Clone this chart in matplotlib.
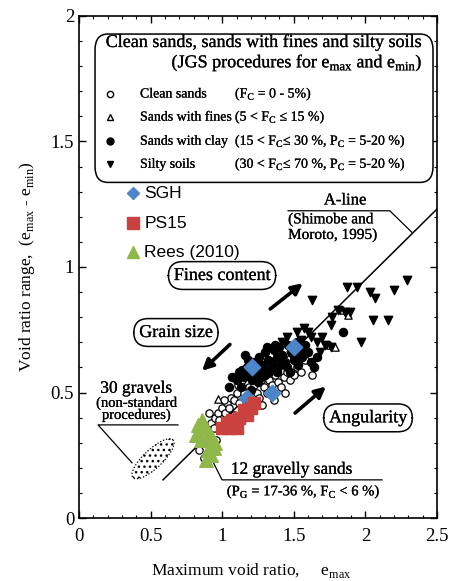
import numpy as np
import matplotlib
matplotlib.use("Agg")
import matplotlib.pyplot as plt
import matplotlib.patheffects as pe
from matplotlib.patches import FancyBboxPatch, Polygon

# --- data (e_max, e_max - e_min) ---
clean_x = [0.84, 0.86, 0.88, 0.87, 0.90, 0.92, 0.94, 0.95, 0.97, 0.98, 1.00, 1.02, 1.03, 1.05,
           1.06, 1.08, 1.10, 1.12, 1.13, 1.15, 1.17, 1.19, 1.22, 1.24, 1.26, 1.27, 1.29, 1.31,
           1.33, 1.35, 1.37, 1.39, 1.41, 1.43, 1.45, 1.47, 1.50, 1.52, 1.55, 1.63, 1.28, 1.20,
           1.08, 0.99, 1.14, 1.25, 1.32, 1.42, 0.96, 1.36, 1.44, 1.58, 1.18, 0.91, 1.01, 1.11]
clean_y = [0.27, 0.30, 0.33, 0.24, 0.35, 0.38, 0.36, 0.40, 0.42, 0.39, 0.44, 0.42, 0.46, 0.44,
           0.48, 0.47, 0.50, 0.46, 0.52, 0.50, 0.54, 0.52, 0.53, 0.50, 0.48, 0.55, 0.52, 0.50,
           0.55, 0.53, 0.57, 0.54, 0.52, 0.56, 0.58, 0.55, 0.57, 0.60, 0.58, 0.57, 0.45, 0.47,
           0.41, 0.36, 0.55, 0.58, 0.60, 0.62, 0.31, 0.47, 0.50, 0.63, 0.43, 0.42, 0.47, 0.53]

fines_x = [0.97, 1.84, 1.88, 1.75, 1.79]
fines_y = [0.475, 0.83, 0.81, 0.69, 0.68]

clay_x = [1.10, 1.12, 1.15, 1.17, 1.19, 1.22, 1.24, 1.26, 1.28, 1.30, 1.32, 1.34, 1.36, 1.38,
          1.40, 1.42, 1.44, 1.46, 1.48, 1.50, 1.52, 1.54, 1.56, 1.58, 1.60, 1.62, 1.27, 1.33,
          1.39, 1.45, 1.21, 1.13, 1.16, 1.37, 1.25, 1.05, 1.07, 1.84, 1.64, 1.30, 1.47, 1.53, 1.20,
          1.18, 1.23, 1.29, 1.35, 1.41, 1.43, 1.49, 1.55, 1.59, 1.66, 1.31, 1.26, 1.14, 1.38, 1.51]
clay_y = [0.55, 0.58, 0.56, 0.60, 0.57, 0.62, 0.59, 0.64, 0.61, 0.66, 0.63, 0.60, 0.67, 0.64,
          0.68, 0.65, 0.62, 0.69, 0.66, 0.63, 0.70, 0.67, 0.64, 0.69, 0.66, 0.62, 0.56, 0.58,
          0.60, 0.60, 0.55, 0.52, 0.65, 0.69, 0.54, 0.52, 0.56, 0.74, 0.60, 0.57, 0.58, 0.61, 0.51,
          0.63, 0.57, 0.59, 0.62, 0.63, 0.70, 0.68, 0.65, 0.66, 0.64, 0.68, 0.61, 0.59, 0.58, 0.65]

silty_x = [1.87, 1.94, 2.03, 2.07, 2.20, 2.29, 1.63, 2.05, 2.16, 1.97, 1.57, 1.76, 1.77, 1.81,
           1.89, 1.86, 1.72, 1.76, 1.62, 1.45, 1.52, 1.55, 1.66, 1.60, 1.48, 1.35, 1.42, 1.70, 1.68]
silty_y = [0.92, 0.92, 0.90, 0.876, 0.91, 0.95, 0.87, 0.79, 0.79, 0.70, 0.756, 0.77, 0.80, 0.83,
           0.82, 0.82, 0.69, 0.68, 0.72, 0.72, 0.74, 0.71, 0.70, 0.74, 0.65, 0.62, 0.70, 0.72, 0.66]

sgh_x = [1.21, 1.50, 1.17, 1.35]
sgh_y = [0.60, 0.68, 0.48, 0.50]

ps15_x = [1.00, 1.05, 1.10, 1.07, 1.12, 1.17, 1.15, 1.20, 1.22, 1.03]
ps15_y = [0.36, 0.36, 0.36, 0.39, 0.40, 0.41, 0.43, 0.44, 0.46, 0.38]

rees_x = [0.83, 0.86, 0.88, 0.91, 0.82, 0.85, 0.93, 0.95, 0.90, 0.92, 0.94, 0.89]
rees_y = [0.37, 0.39, 0.36, 0.34, 0.33, 0.31, 0.32, 0.30, 0.27, 0.25, 0.28, 0.23]

# A-line (Shimobe and Moroto, 1995)
aline_x = [0.587, 2.6]
aline_slope = 0.564
aline_icpt = -0.179

plt.rcParams['font.family'] = "Liberation Serif"
heavy = [pe.withStroke(linewidth=0.15, foreground='black')]

fig = plt.figure(figsize=(4.54, 5.81), dpi=100)
ax = fig.add_axes([0.174, 0.1084, 0.7886, 0.8641])
ax.set_xlim(0, 2.5)
ax.set_ylim(0, 2)

ax.set_xticks([0, 0.5, 1, 1.5, 2, 2.5])
ax.set_xticklabels(['0', '0.5', '1', '1.5', '2', '2.5'])
ax.set_yticks([0, 0.5, 1, 1.5, 2])
ax.set_yticklabels(['0', '0.5', '1', '1.5', '2'])
ax.set_xticks(np.arange(0, 2.51, 0.1), minor=True)
ax.set_yticks(np.arange(0, 2.01, 0.1), minor=True)
ax.tick_params(which='both', direction='in', top=True, right=True, labelsize=13.5)
ax.tick_params(which='major', length=5, width=1)
ax.tick_params(which='minor', length=2.5, width=0.8)
ax.tick_params(axis='x', pad=7)
for s in ax.spines.values():
    s.set_linewidth(1.2)

ax.set_xlabel(r'Maximum void ratio,     e$_{\mathregular{max}}$', fontsize=12.5, labelpad=12)
ax.xaxis.label.set_x(0.48)
ax.set_ylabel(r'Void ratio range,  (e$_{\mathregular{max}}$ - e$_{\mathregular{min}}$)',
              fontsize=12.5, labelpad=10)

# A-line
ax_x = np.array(aline_x)
ax.plot(ax_x, aline_slope * ax_x + aline_icpt, color='black', lw=1.1, zorder=2)

# scatter groups
ax.scatter(clean_x, clean_y, s=28, facecolors='white', edgecolors='black', linewidths=0.9, zorder=3)
ax.scatter(fines_x, fines_y, s=28, marker='^', facecolors='white', edgecolors='black',
           linewidths=0.9, zorder=3)
ax.scatter(clay_x, clay_y, s=34, color='black', zorder=4)
ax.scatter(silty_x, silty_y, s=36, marker='v', color='black', zorder=4)
ax.scatter(sgh_x, sgh_y, s=70, marker='D', color='#4a86c8', zorder=5)
ax.scatter(ps15_x, ps15_y, s=85, marker='s', color='#c9423f', zorder=5)
ax.scatter(rees_x, rees_y, s=95, marker='^', color='#8fb84a', zorder=5)

# main legend box
box = FancyBboxPatch((0.112, 1.337), 2.36, 0.591,
                     boxstyle='round,pad=0,rounding_size=0.09',
                     mutation_aspect=0.7, fc='white', ec='black', lw=1.1, zorder=6)
ax.add_patch(box)
ax.text(1.285, 1.896, 'Clean sands, sands with fines and silty soils', fontsize=13,
        ha='center', va='center', zorder=7, path_effects=heavy)
ax.text(1.52, 1.813, r'(JGS procedures for e$_{\mathregular{max}}$ and e$_{\mathregular{min}}$)',
        fontsize=13, ha='center', va='center', zorder=7, path_effects=heavy)

rows_y = [1.689, 1.597, 1.501, 1.409]
names = ['Clean sands', 'Sands with fines', 'Sands with clay', 'Silty soils']
conds = [r'(F$_{\mathregular{C}}$ = 0 - 5%)',
         r'(5 < F$_{\mathregular{C}}$ ≤ 15 %)',
         r'(15 < F$_{\mathregular{C}}$≤ 30 %, P$_{\mathregular{C}}$ = 5-20 %)',
         r'(30 < F$_{\mathregular{C}}$≤ 70 %, P$_{\mathregular{C}}$ = 5-20 %)']
styles = [dict(marker='o', mfc='white', mec='black', ms=4.5),
          dict(marker='^', mfc='white', mec='black', ms=4.5),
          dict(marker='o', mfc='black', mec='black', ms=5),
          dict(marker='v', mfc='black', mec='black', ms=5)]
for yy, nm, cd, st in zip(rows_y, names, conds, styles):
    ax.plot([0.216], [yy], ls='none', zorder=7, **st)
    ax.text(0.426, yy, nm, fontsize=10, ha='left', va='center', zorder=7, path_effects=heavy)
    ax.text(1.089, yy, cd, fontsize=10, ha='left', va='center', zorder=7, path_effects=heavy)

# coloured legend
leg_y = [1.293, 1.174, 1.058]
leg_names = ['SGH', 'PS15', 'Rees (2010)']
leg_styles = [dict(marker='D', color='#4a86c8', ms=6.5),
              dict(marker='s', color='#c9423f', ms=8),
              dict(marker='^', color='#8fb84a', ms=8)]
for yy, nm, st in zip(leg_y, leg_names, leg_styles):
    ax.plot([0.377], [yy], ls='none', zorder=7, **st)
    ax.text(0.455, yy, nm, fontsize=12.5, ha='left', va='center', family='Liberation Sans', zorder=7)

# A-line label
ax.text(1.858, 1.265, 'A-line', fontsize=12, ha='center', va='center', path_effects=heavy)
ax.text(1.46, 1.188, '(Shimobe and', fontsize=11, ha='left', va='center', path_effects=heavy)
ax.text(1.46, 1.126, 'Moroto, 1995)', fontsize=11, ha='left', va='center', path_effects=heavy)
ax.plot([1.46, 2.17, 2.325], [1.224, 1.224, 1.138], color='black', lw=0.9)

# boxed captions
rbox = dict(boxstyle='round,pad=0.3,rounding_size=0.8', fc='white', ec='black', lw=1.1)
ax.text(0.999, 0.966, 'Fines content', fontsize=13, ha='center', va='center', bbox=rbox,
        zorder=6, path_effects=heavy)
ax.text(0.677, 0.739, 'Grain size', fontsize=13, ha='center', va='center', bbox=rbox,
        zorder=6, path_effects=heavy)
ax.text(2.018, 0.399, 'Angularity', fontsize=13, ha='center', va='center', bbox=rbox,
        zorder=6, path_effects=heavy)

# thick arrows
arrows = [((1.32, 0.826), (1.578, 0.942)),
          ((1.068, 0.699), (0.845, 0.579)),
          ((1.494, 0.411), (1.739, 0.531))]
for tail, head in arrows:
    ax.annotate('', xy=head, xytext=tail,
                arrowprops=dict(arrowstyle='-|>', lw=2.6, color='black', mutation_scale=16))

# gravels note
ax.text(0.40, 0.515, '30 gravels', fontsize=12.5, ha='center', va='center', path_effects=heavy)
ax.text(0.40, 0.457, '(non-standard', fontsize=10.5, ha='center', va='center', path_effects=heavy)
ax.text(0.40, 0.409, 'procedures)', fontsize=10.5, ha='center', va='center', path_effects=heavy)
ax.plot([0.691, 0.133, 0.37], [0.371, 0.371, 0.22], color='black', lw=0.9)

t = np.linspace(0, 2 * np.pi, 60)
cx, cy = 0.517, 0.236
cloud = np.column_stack([cx + 0.14 * np.cos(t) - 0.045 * np.sin(t),
                         cy + 0.075 * np.cos(t) + 0.027 * np.sin(t)])
ax.add_patch(Polygon(cloud, closed=True, fc='white', ec='black', ls=(0, (1, 1.5)),
                     lw=0.9, hatch='...', zorder=2))

# gravelly sands note
ax.text(1.487, 0.192, '12 gravelly sands', fontsize=12.5, ha='center', va='center',
        path_effects=heavy)
ax.text(1.571, 0.104, r'(P$_{\mathregular{G}}$ = 17-36 %, F$_{\mathregular{C}}$ < 6 %)',
        fontsize=10.5, ha='center', va='center', path_effects=heavy)
ax.plot([2.116, 0.999, 0.894], [0.152, 0.152, 0.271], color='black', lw=0.9)

fig.savefig('out.png', dpi=100)
